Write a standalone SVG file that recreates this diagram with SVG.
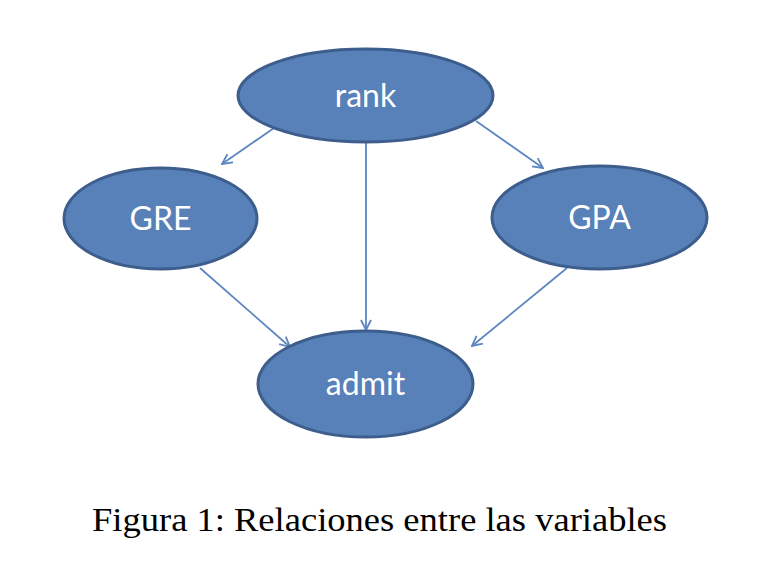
<svg xmlns="http://www.w3.org/2000/svg" width="765" height="573" viewBox="0 0 765 573">
<style>
.node ellipse{fill:#5880b9;stroke:#3d5d8c;stroke-width:3}
.node text{fill:#ffffff;font-family:Lato,"Open Sans",sans-serif;font-size:32px;text-anchor:middle}
.edge{stroke:#5b86c0;stroke-width:1.8;fill:none;marker-end:url(#arr)}
.cap{font-family:"Liberation Serif","DejaVu Serif",serif;font-size:34px;fill:#000;text-anchor:middle}
</style>
<defs>
<marker id="arr" viewBox="0 0 12 12" refX="11" refY="6" markerWidth="12" markerHeight="12" markerUnits="userSpaceOnUse" orient="auto">
<path d="M1,1 L11,6 L1,11" fill="none" stroke="#5b86c0" stroke-width="1.8"/>
</marker>
</defs>
<rect width="765" height="573" fill="#fff"/>
<g id="edges">
<line class="edge" x1="274" y1="128" x2="222" y2="164"/>
<line class="edge" x1="366" y1="142" x2="366" y2="330"/>
<line class="edge" x1="476" y1="121" x2="543" y2="168"/>
<line class="edge" x1="200" y1="268" x2="290" y2="347"/>
<line class="edge" x1="567" y1="268" x2="472" y2="346"/>
</g>
<g id="rank" class="node"><ellipse cx="365.5" cy="95.5" rx="127.5" ry="46.5"/><text x="365.5" y="107">rank</text></g>
<g id="GRE" class="node"><ellipse cx="160.5" cy="218.5" rx="96.5" ry="50.5"/><text x="160.5" y="230">GRE</text></g>
<g id="GPA" class="node"><ellipse cx="599.5" cy="217.5" rx="107.5" ry="51.5"/><text x="599.5" y="229">GPA</text></g>
<g id="admit" class="node"><ellipse cx="365.5" cy="384" rx="107.5" ry="53"/><text x="365.5" y="395">admit</text></g>
<text class="cap" x="379.5" y="531" textLength="575" lengthAdjust="spacingAndGlyphs">Figura 1: Relaciones entre las variables</text>
</svg>
